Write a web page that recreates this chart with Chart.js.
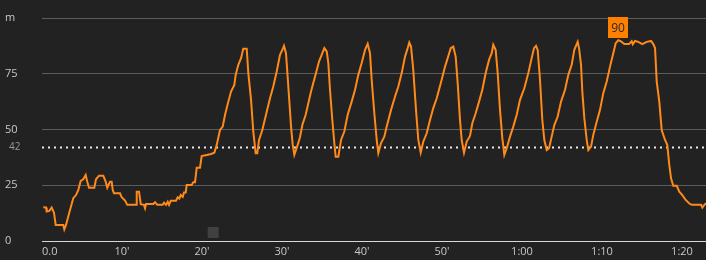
<!DOCTYPE html>
<html>
<head>
<meta charset="utf-8">
<script src="https://cdn.jsdelivr.net/npm/chart.js@4/dist/chart.umd.min.js"></script>
<style>
  html, body { margin: 0; padding: 0; background: #222222; overflow: hidden; }
  canvas { display: block; }
</style>
</head>
<body>
<canvas id="c" width="706" height="260" style="width:706px;height:260px"></canvas>
<script>
// elapsed time in minutes
const times = [0.16,0.5,0.59,0.91,1.21,1.5,1.71,2.66,2.79,3.0,3.5,3.91,4.25,4.54,4.84,5.16,5.46,5.66,5.88,6.54,6.75,7.13,7.66,7.96,8.16,8.5,8.71,8.84,9.0,9.75,9.96,10.38,10.66,11.75,11.84,12.13,12.34,12.75,12.88,13.0,13.91,14.13,14.41,15.09,15.25,15.5,15.71,15.88,16.09,16.75,16.96,17.16,17.34,17.59,17.75,17.96,18.09,18.71,18.91,19.13,19.34,19.75,19.96,20.59,21.13,21.54,21.84,22.25,22.59,22.88,23.29,23.63,24.04,24.21,24.54,24.88,25.16,25.59,25.79,26.13,26.41,26.71,26.91,27.13,27.54,28.09,28.5,28.91,29.34,29.75,30.04,30.25,30.5,30.79,31.13,31.34,31.54,31.96,32.25,32.54,32.96,33.29,33.63,33.91,34.25,34.63,34.96,35.29,35.59,35.79,36.0,36.29,36.54,36.71,37.04,37.38,37.79,38.21,38.71,39.13,39.54,39.96,40.38,40.71,41.0,41.21,41.54,41.84,42.04,42.38,42.79,43.09,43.63,44.13,44.54,44.96,45.38,45.71,45.91,46.13,46.41,46.75,47.04,47.34,47.66,48.09,48.5,48.91,49.34,49.96,50.38,50.71,51.09,51.41,51.71,51.96,52.25,52.46,52.75,53.09,53.5,53.79,54.21,54.63,55.04,55.46,55.88,56.21,56.41,56.71,56.96,57.25,57.54,57.79,58.09,58.5,58.91,59.34,59.75,60.29,60.79,61.21,61.5,61.75,61.96,62.25,62.54,62.79,63.09,63.38,63.71,64.04,64.46,64.88,65.38,65.79,66.21,66.54,66.96,67.13,67.38,67.54,67.79,68.09,68.29,68.63,68.91,69.34,69.75,70.16,70.59,71.0,71.41,71.71,72.04,72.38,72.79,73.38,73.71,73.84,74.13,74.54,75.04,75.59,76.13,76.41,76.63,76.84,77.16,77.46,77.88,78.16,78.41,78.63,78.91,79.34,79.66,80.04,80.46,80.88,81.21,82.38,82.54,82.79,83.0];
// altitude in metres
const altitude = [15.1,15,13.2,13.5,15,12.7,7.2,7.2,5.2,7.2,13.9,19.2,20.6,22.9,27,27.7,29.6,26.6,23.9,23.9,27.7,29.3,29.3,26.6,23.9,26.6,26.6,22.9,21.4,21.4,19.6,18.1,16.2,16.2,22.1,22.1,16.5,16.2,14.7,16.6,16.6,17.4,16.2,16.2,17.2,16.2,17.6,16.2,18.1,18.1,19.6,19.0,20.6,19.8,21.7,21.7,25.1,25.1,26.4,26.4,32.9,32.9,38.1,38.6,39,39.6,43.1,49.8,51.3,56.6,62.5,67,70,74.5,79,82,86.2,86.2,75.3,63.3,49.1,39.4,39.4,45.3,49.8,58,64,69.3,76,83.5,85.7,87.5,84.2,69.3,51.3,43.1,38.6,43.1,46.5,52,56.6,61.8,67,70.8,75.3,80.5,83.5,86.5,85,79.8,67.8,54.3,43.9,37.8,37.8,45.3,49.1,56.6,62.5,67.8,74.5,79.8,85.7,88.4,84.2,72.3,57.3,45.3,39.4,43.9,46.8,51.3,58.8,64.8,69.3,75.3,82.7,86.5,89,87.2,76.7,58.8,45.3,39.6,44.6,48.3,54.3,59.6,64,72.3,78.2,82,86.5,87.2,82.7,70.8,54.3,45.3,39.6,44.6,47.1,52.8,57.3,62.5,67.8,75.3,81.2,84.2,88,85.7,75.3,58.8,46.1,38.6,41.6,46.8,51.3,56.6,63.3,68.5,75.3,82,86.5,87.5,85.7,72.3,54.3,45.3,40.8,41.6,46.8,52,55.8,62.5,67.8,74.5,79,85.7,89.3,86.5,79,67,55.1,45.3,40.8,42.3,47.6,53.5,58.8,66.3,71.5,78.2,84.2,88.7,90,89.5,88.3,88.3,89.6,88.2,89.7,89.3,88.3,89.3,89.7,88.3,86.5,71.5,62.5,49.8,45.3,43.1,34.1,28.1,24.8,24.8,22.1,20.6,18.4,16.9,16.2,16.2,15,16.2,16.9];
// lap marker
const markerTimes = [21.4];
const markerValues = [3.8];
// reference line
const refValue = 42;
// axis ticks
const xTickValues = [0,10,20,30,40,50,60,70,80];
const xMax = 83;
const yTickValues = [0,25,50,75,100];

function fmtTime(v) {
  if (v === 0) return '0.0';
  if (v < 60) return v + "'";
  const h = Math.floor(v / 60), m = v % 60;
  return h + ':' + (m < 10 ? '0' + m : m);
}

const lineData = times.map((t, i) => ({ x: t, y: altitude[i] }));
const markerData = markerTimes.map((t, i) => ({ x: t, y: markerValues[i] }));

const refLinePlugin = {
  id: 'refLine',
  beforeDatasetsDraw(chart) {
    const { ctx, chartArea, scales } = chart;
    const y = Math.round(scales.y.getPixelForValue(refValue)) + 0.5;
    ctx.save();
    ctx.strokeStyle = '#e8e8e8';
    ctx.lineWidth = 2;
    ctx.setLineDash([2, 4]);
    ctx.beginPath();
    ctx.moveTo(chartArea.left, y);
    ctx.lineTo(chartArea.right, y);
    ctx.stroke();
    ctx.setLineDash([]);
    ctx.fillStyle = '#9a9a9a';
    ctx.font = '10px "Open Sans", sans-serif';
    ctx.textAlign = 'left';
    ctx.textBaseline = 'middle';
    ctx.fillText(String(refValue), 9, y);
    ctx.restore();
  }
};

const maxLabelPlugin = {
  id: 'maxLabel',
  afterDatasetsDraw(chart) {
    const { ctx, scales } = chart;
    let mi = 0;
    for (let i = 1; i < altitude.length; i++) if (altitude[i] > altitude[mi]) mi = i;
    const px = scales.x.getPixelForValue(times[mi]);
    const py = scales.y.getPixelForValue(altitude[mi]);
    const txt = String(Math.round(altitude[mi]));
    ctx.save();
    ctx.font = '12px "Open Sans", sans-serif';
    const w = Math.ceil(ctx.measureText(txt).width) + 6;
    const h = 21;
    const bx = Math.round(px - w / 2), by = Math.round(py - 2 - h);
    ctx.fillStyle = '#ff7f00';
    ctx.fillRect(bx, by, w, h);
    ctx.fillStyle = '#2a2a2a';
    ctx.textAlign = 'center';
    ctx.textBaseline = 'middle';
    ctx.fillText(txt, bx + w / 2, by + h / 2 + 1);
    ctx.restore();
  }
};

new Chart(document.getElementById('c'), {
  type: 'line',
  data: {
    datasets: [
      {
        type: 'scatter',
        data: markerData,
        pointStyle: 'rect',
        pointRadius: 7.8,
        pointHoverRadius: 7.8,
        pointBackgroundColor: '#404040',
        pointBorderWidth: 0,
        showLine: false,
        order: 2
      },
      {
        data: lineData,
        borderColor: '#ff8a1a',
        borderWidth: 2,
        pointRadius: 0,
        pointHoverRadius: 0,
        tension: 0,
        fill: false,
        order: 1
      }
    ]
  },
  options: {
    responsive: false,
    maintainAspectRatio: false,
    devicePixelRatio: 1,
    animation: false,
    events: [],
    layout: { autoPadding: false, padding: { left: 5, right: 0, top: 18, bottom: 0 } },
    plugins: { legend: { display: false }, tooltip: { enabled: false } },
    scales: {
      x: {
        type: 'linear',
        min: 0,
        max: xMax,
        afterBuildTicks(scale) {
          scale.ticks = xTickValues.concat([xMax]).map(v => ({ value: v }));
        },
        afterFit(scale) { scale.height = 19; scale.paddingRight = 0; },
        grid: { display: false, drawTicks: false },
        border: { display: true, color: '#d8d8d8', width: 1 },
        ticks: {
          autoSkip: false,
          maxRotation: 0,
          align: 'inner',
          padding: 4,
          color: '#c8c8c8',
          font: { family: '"Open Sans", sans-serif', size: 11 },
          callback: (v) => xTickValues.includes(v) ? fmtTime(v) : ''
        }
      },
      y: {
        min: 0,
        max: 100,
        afterBuildTicks(scale) {
          scale.ticks = yTickValues.map(v => ({ value: v }));
        },
        afterFit(scale) { scale.width = 37; },
        grid: {
          drawTicks: false,
          color: (c) => c.tick && c.tick.value === 0 ? '#d8d8d8' : '#5c5c5c',
          lineWidth: 1
        },
        border: { display: false },
        ticks: {
          crossAlign: 'far',
          padding: 4,
          color: '#c8c8c8',
          font: { family: '"Open Sans", sans-serif', size: 11 },
          callback: (v) => v === 100 ? 'm' : String(v)
        }
      }
    }
  },
  plugins: [refLinePlugin, maxLabelPlugin]
});
</script>
</body>
</html>
